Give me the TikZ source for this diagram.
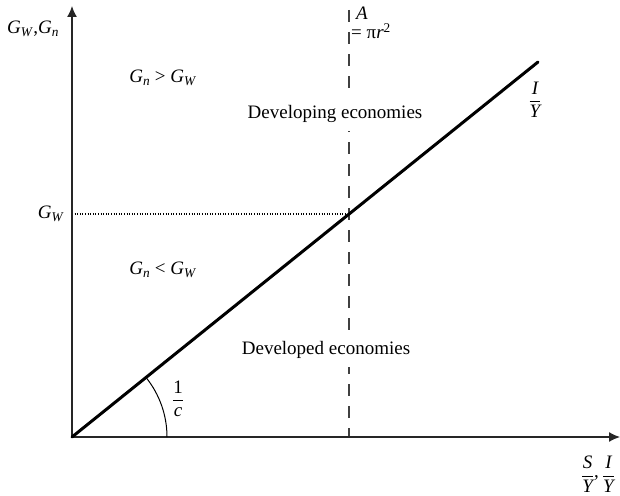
\documentclass[tikz,border=0pt]{standalone}
\usepackage{amsmath}
\usepackage{fontspec}
\setmainfont{Liberation Serif}
\usetikzlibrary{arrows.meta}
\newcommand{\vi}[1]{\textit{#1}}
\newcommand{\hfr}[2]{\ensuremath{\dfrac{\hbox{\itshape #1}}{\hbox{\itshape #2}}}}
\begin{document}
\begin{tikzpicture}[x=1pt,y=-1pt,
  every node/.style={font=\fontsize{19}{23}\selectfont, inner sep=1pt},
  axis/.style={line width=1.3pt, draw=black!85, -{Latex[length=11pt,width=10pt]}},
  mainline/.style={line width=3pt, line cap=round},
  guide/.style={line width=1.2pt, draw=black!75, dash pattern=on 12pt off 10pt},
  dotline/.style={line width=1.1pt, dash pattern=on 1pt off 1.6pt},
  region/.style={fill=white, draw=none, inner xsep=3pt, inner ysep=8pt}]
\useasboundingbox (0,0) rectangle (620,495);
\coordinate (O) at (72,437);
\coordinate (ytop) at (72,6);
\coordinate (xend) at (620,437);
\coordinate (L) at (538,62);
\coordinate (dtop) at (349,10);
\coordinate (dbot) at (349,437);
\coordinate (gw) at (72,214);
\coordinate (gx) at (349,214);
% guides
\draw[guide] (dtop) -- (dbot);
\draw[dotline] (gw) -- (gx);
% axes
\draw[axis] (O) -- (ytop);
\draw[axis] (O) -- (xend);
% main line
\draw[mainline] (O) -- (L);
% angle arc
\draw[line width=1pt] (167,437) arc[start angle=0, end angle=-38.8, radius=95];
% labels
\node (ylab) at (33,29) {\vi{G}\textsubscript{\vi{W}},\vi{G}\textsubscript{\vi{n}}};
\node (gwlab) at (51,214) {\vi{G}\textsubscript{\vi{W}}};
\node (r1) at (163,78) {\vi{G}\textsubscript{\vi{n}} > \vi{G}\textsubscript{\vi{W}}};
\node (r2) at (163,270) {\vi{G}\textsubscript{\vi{n}} < \vi{G}\textsubscript{\vi{W}}};
\node[region] (dev1) at (335,114) {Developing economies};
\node[region] (dev2) at (326,350) {Developed economies};
\node[anchor=west] (A1) at (355,13) {\vi{A}};
\node[anchor=west] (A2) at (350,31) {= π\vi{r}\textsuperscript{2}};
\node (iy) at (535,100) {\hfr{I}{Y}};
\node (c) at (178,399) {\ensuremath{\dfrac{\hbox{1}}{\hbox{\itshape c}}}};
\node (xlab) at (598,474) {\hfr{S}{Y}\raisebox{3pt}{,}\,\hfr{I}{Y}};
\end{tikzpicture}
\end{document}
